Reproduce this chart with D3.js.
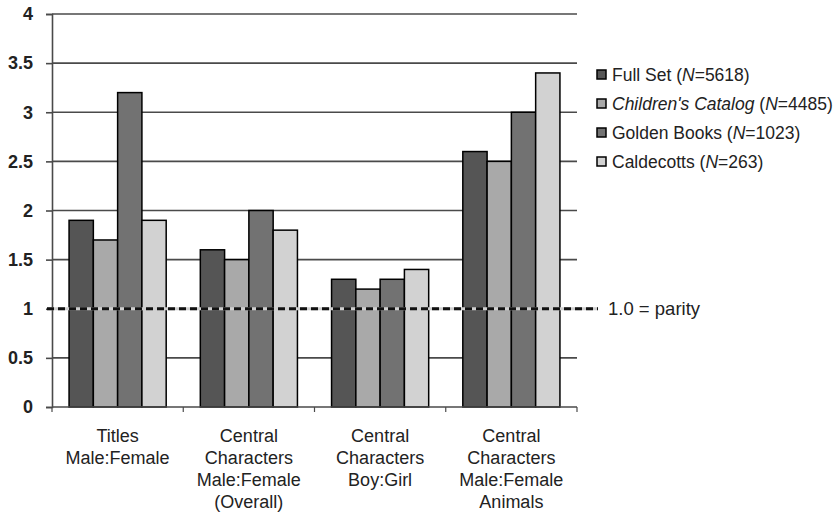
<!DOCTYPE html>
<html>
<head>
<meta charset="utf-8">
<script src="https://cdn.jsdelivr.net/npm/d3@7"></script>
<style>
  body { margin: 0; background: #fff; }
  text { font-family: "Liberation Sans", Arial, sans-serif; fill: #222; }
</style>
</head>
<body>
<div id="chart"></div>
<script>
// chart data
var categories = ["Titles|Male:Female", "Central|Characters|Male:Female|(Overall)", "Central|Characters|Boy:Girl", "Central|Characters|Male:Female|Animals"];
var seriesNames = ["Full Set", "Children's Catalog", "Golden Books", "Caldecotts"];
var seriesN = ["5618", "4485", "1023", "263"];
var fullSet = [1.9, 1.6, 1.3, 2.6];
var childrensCatalog = [1.7, 1.5, 1.2, 2.5];
var goldenBooks = [3.2, 2.0, 1.3, 3.0];
var caldecotts = [1.9, 1.8, 1.4, 3.4];
var yTicks = [0, 0.5, 1, 1.5, 2, 2.5, 3, 3.5, 4];
var parity = 1;

var colors = ["#555555", "#a9a9a9", "#727272", "#d2d2d2"];
var seriesValues = [fullSet, childrensCatalog, goldenBooks, caldecotts];

var svgWidth = 840;
var svgHeight = 512;
var margin = { top: 14, right: 263, bottom: 105, left: 52 };
var width = svgWidth - margin.left - margin.right;
var height = svgHeight - margin.top - margin.bottom;

var svg = d3.select("#chart")
  .append("svg")
  .attr("width", svgWidth)
  .attr("height", svgHeight);

var chartGroup = svg.append("g")
  .attr("transform", `translate(${margin.left}, ${margin.top})`);

var xScale = d3.scaleBand()
  .domain(categories)
  .range([0, width])
  .paddingInner(0.26)
  .paddingOuter(0.13);

var xInner = d3.scaleBand()
  .domain(seriesNames)
  .range([0, xScale.bandwidth()]);

var yScale = d3.scaleLinear()
  .domain([0, 4])
  .range([height, 0]);

// gridlines
chartGroup.append("g")
  .selectAll("line")
  .data(yTicks.filter(d => d > 0))
  .enter()
  .append("line")
  .attr("x1", 0)
  .attr("x2", width)
  .attr("y1", d => yScale(d))
  .attr("y2", d => yScale(d))
  .attr("stroke", "#4a4a4a")
  .attr("stroke-width", 1.6);

// y axis
var leftAxis = d3.axisLeft(yScale)
  .tickValues(yTicks)
  .tickSize(6)
  .tickPadding(13)
  .tickFormat(d => d);

var yAxis = chartGroup.append("g").call(leftAxis);
yAxis.select(".domain").attr("stroke", "#4a4a4a").attr("stroke-width", 1.6);
yAxis.selectAll(".tick line").attr("stroke", "#4a4a4a").attr("stroke-width", 1.6);
yAxis.selectAll(".tick text")
  .attr("font-size", 18)
  .attr("font-weight", "bold")
  .attr("font-family", "Liberation Sans, Arial, sans-serif")
  .attr("fill", "#222");

// bars
var groups = chartGroup.selectAll(".cat")
  .data(categories)
  .enter()
  .append("g")
  .attr("transform", d => `translate(${xScale(d)}, 0)`);

groups.selectAll("rect")
  .data((d, i) => seriesValues.map((s, j) => ({ name: seriesNames[j], value: s[i], idx: j })))
  .enter()
  .append("rect")
  .attr("x", d => xInner(d.name))
  .attr("y", d => yScale(d.value))
  .attr("width", xInner.bandwidth())
  .attr("height", d => height - yScale(d.value))
  .attr("fill", d => colors[d.idx])
  .attr("stroke", "#000")
  .attr("stroke-width", 1.5);

// x axis with ticks at category boundaries
chartGroup.append("line")
  .attr("x1", 0)
  .attr("x2", width)
  .attr("y1", height)
  .attr("y2", height)
  .attr("stroke", "#4a4a4a")
  .attr("stroke-width", 1.6);

var boundaries = categories.map((c, i) => i === 0 ? 0 : xScale(c) - xScale.step() * xScale.paddingInner() / 2);
boundaries.push(width);
chartGroup.append("g")
  .selectAll("line")
  .data(boundaries)
  .enter()
  .append("line")
  .attr("x1", d => d)
  .attr("x2", d => d)
  .attr("y1", height)
  .attr("y2", height + 5)
  .attr("stroke", "#4a4a4a")
  .attr("stroke-width", 1.2);

// category labels
var labels = chartGroup.append("g")
  .selectAll("text")
  .data(categories)
  .enter()
  .append("text")
  .attr("x", d => xScale(d) + xScale.bandwidth() / 2)
  .attr("y", height + 35)
  .attr("text-anchor", "middle")
  .attr("font-size", 18);

labels.selectAll("tspan")
  .data(d => d.split("|"))
  .enter()
  .append("tspan")
  .attr("x", function() { return d3.select(this.parentNode).attr("x"); })
  .attr("dy", (d, i) => i === 0 ? 0 : 22)
  .text(d => d);

// parity line
chartGroup.append("line")
  .attr("x1", -5)
  .attr("x2", 546)
  .attr("y1", yScale(parity))
  .attr("y2", yScale(parity))
  .attr("stroke", "#cfcfcf")
  .attr("stroke-width", 3);

chartGroup.append("line")
  .attr("x1", -5)
  .attr("x2", 546)
  .attr("y1", yScale(parity))
  .attr("y2", yScale(parity))
  .attr("stroke", "#111")
  .attr("stroke-width", 3)
  .attr("stroke-dasharray", "7,4");

chartGroup.append("text")
  .attr("x", 556)
  .attr("y", yScale(parity) + 6)
  .attr("font-family", "Open Sans, Noto Sans, sans-serif")
  .attr("font-size", 18.5)
  .text("1.0 = parity");

// legend
var legend = svg.append("g")
  .attr("transform", "translate(597, 75)");

var legendRows = legend.selectAll("g")
  .data(seriesNames)
  .enter()
  .append("g")
  .attr("transform", (d, i) => `translate(0, ${i * 29})`);

legendRows.append("rect")
  .attr("x", 0)
  .attr("y", -5)
  .attr("width", 9)
  .attr("height", 9)
  .attr("fill", (d, i) => colors[i])
  .attr("stroke", "#000")
  .attr("stroke-width", 1.5);

var legendText = legendRows.append("text")
  .attr("x", 15)
  .attr("y", 6)
  .attr("font-size", 17.5);

legendText.append("tspan")
  .attr("font-style", (d, i) => i === 1 ? "italic" : "normal")
  .text(d => d);
legendText.append("tspan").text(" (");
legendText.append("tspan").attr("font-style", "italic").text("N");
legendText.append("tspan").text((d, i) => "=" + seriesN[i] + ")");
</script>
</body>
</html>
